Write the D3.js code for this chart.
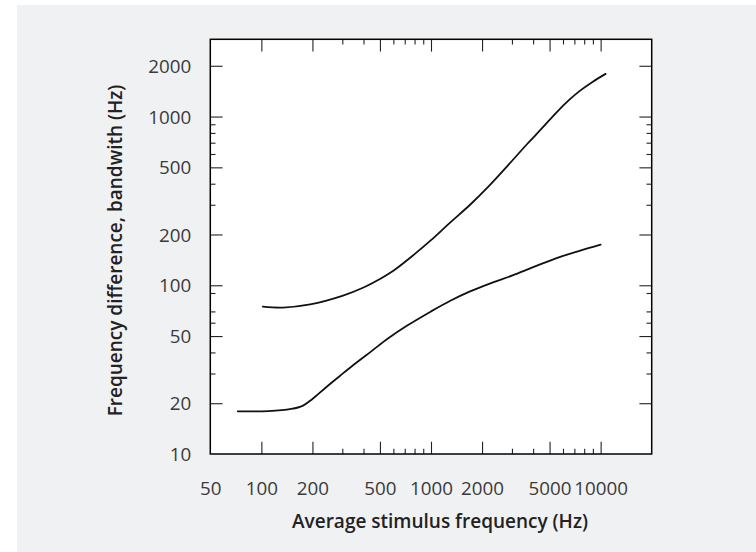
<!DOCTYPE html>
<html>
<head>
<meta charset="utf-8">
<script src="https://cdn.jsdelivr.net/npm/d3@7"></script>
<style>
  html, body { margin: 0; padding: 0; background: #ffffff; }
  svg { display: block; }
</style>
</head>
<body>
<svg id="chart" width="756" height="552"></svg>
<script>
// ---- data ----
const upperFreq = [102, 134, 194, 300, 400, 500, 600, 800, 1000, 1300, 1700, 2200, 2800, 3700, 4500, 5500, 6500, 7500, 9000, 10700];
const upperBand = [74.7, 73.8, 77, 86.5, 97, 109, 122, 153, 185, 236, 300, 388, 505, 690, 850, 1060, 1250, 1415, 1610, 1790];

const lowerFreq = [72.6, 110, 150, 175, 200, 240, 290, 350, 450, 560, 720, 1000, 1300, 1700, 2200, 3000, 4000, 5500, 7500, 10000];
const lowerBand = [17.9, 17.95, 18.5, 19.3, 21.2, 24.8, 29, 33.8, 41, 48.5, 57.5, 70, 81, 92, 102, 114, 128, 145, 160, 174];

const xTickLabels = [50, 100, 200, 500, 1000, 2000, 5000, 10000];
const xMajorTicks = [100, 200, 500, 1000, 2000, 5000, 10000];
const xMinorTicks = [300, 400, 600, 700, 800, 900, 3000, 4000, 6000, 7000, 8000, 9000];

const yTickLabels = [10, 20, 50, 100, 200, 500, 1000, 2000];
const yMajorTicks = [20, 50, 100, 200, 500, 1000, 2000];
const yMinorTicks = [30, 40, 60, 70, 90, 300, 400, 600, 700, 800, 900];

const xTitle = "Average stimulus frequency (Hz)";
const yTitle = "Frequency difference, bandwith (Hz)";

// ---- layout ----
const svg = d3.select("#chart");
const plot = { left: 210.3, right: 651.7, top: 39.3, bottom: 454 };

svg.append("rect")
  .attr("x", 17).attr("y", 5).attr("width", 756 - 17).attr("height", 552 - 5)
  .attr("fill", "#f0f1f3");

const x = d3.scaleLog().domain([50, 20000]).range([plot.left, plot.right]);
const y = d3.scaleLog().domain([10, 2870]).range([plot.bottom, plot.top]);

svg.append("rect")
  .attr("x", plot.left).attr("y", plot.top)
  .attr("width", plot.right - plot.left).attr("height", plot.bottom - plot.top)
  .attr("fill", "#ffffff");

const tickColor = "#222";
const majorLen = 12.3, minorLen = 5.2;

function drawAxis(axisGen, transform, ticks, len) {
  const g = svg.append("g").attr("transform", transform)
    .call(axisGen.tickValues(ticks).tickSize(len).tickSizeOuter(0).tickFormat(""));
  g.select(".domain").remove();
  g.selectAll(".tick line").attr("stroke", tickColor).attr("stroke-width", 1.1);
  return g;
}

// bottom axis: ticks point up (inside)
drawAxis(d3.axisTop(x), `translate(0,${plot.bottom})`, xMajorTicks, majorLen);
drawAxis(d3.axisTop(x), `translate(0,${plot.bottom})`, xMinorTicks, minorLen);
// top axis: ticks point down (inside)
drawAxis(d3.axisBottom(x), `translate(0,${plot.top})`, xMajorTicks, majorLen);
drawAxis(d3.axisBottom(x), `translate(0,${plot.top})`, xMinorTicks, minorLen);
// left axis: ticks point right (inside)
drawAxis(d3.axisRight(y), `translate(${plot.left},0)`, yMajorTicks, majorLen);
drawAxis(d3.axisRight(y), `translate(${plot.left},0)`, yMinorTicks, minorLen);
// right axis: ticks point left (inside)
drawAxis(d3.axisLeft(y), `translate(${plot.right},0)`, yMajorTicks, majorLen);
drawAxis(d3.axisLeft(y), `translate(${plot.right},0)`, yMinorTicks, minorLen);

// tick labels
const labelFont = "'Open Sans', sans-serif";
const labelColor = "#3a3a3a";

const xLab = svg.append("g")
  .attr("transform", `translate(0,${plot.bottom})`)
  .call(d3.axisBottom(x).tickValues(xTickLabels).tickSize(0).tickPadding(0).tickFormat(d3.format("d")));
xLab.select(".domain").remove();
xLab.selectAll("text")
  .attr("y", 41).attr("dy", 0)
  .attr("font-family", labelFont).attr("font-size", 18.8)
  .attr("fill", labelColor);

const yLab = svg.append("g")
  .attr("transform", `translate(${plot.left},0)`)
  .call(d3.axisLeft(y).tickValues(yTickLabels).tickSize(0).tickPadding(0).tickFormat(d3.format("d")));
yLab.select(".domain").remove();
yLab.selectAll("text")
  .attr("x", -19).attr("dy", "0.35em")
  .attr("font-family", labelFont).attr("font-size", 18.8)
  .attr("fill", labelColor);

// frame
svg.append("rect")
  .attr("x", plot.left).attr("y", plot.top)
  .attr("width", plot.right - plot.left).attr("height", plot.bottom - plot.top)
  .attr("fill", "none").attr("stroke", "#000").attr("stroke-width", 1.5);

// curves
const line = d3.line()
  .x(d => x(d[0]))
  .y(d => y(d[1]))
  .curve(d3.curveCatmullRom.alpha(0.5));

const upper = upperFreq.map((f, i) => [f, upperBand[i]]);
const lower = lowerFreq.map((f, i) => [f, lowerBand[i]]);

[upper, lower].forEach(data => {
  svg.append("path")
    .datum(data)
    .attr("d", line)
    .attr("fill", "none")
    .attr("stroke", "#111")
    .attr("stroke-width", 1.8)
    .attr("stroke-linecap", "round");
});

// axis titles
svg.append("text")
  .attr("x", 440).attr("y", 528)
  .attr("text-anchor", "middle")
  .attr("font-family", labelFont).attr("font-weight", 600)
  .attr("font-size", 19).attr("fill", "#222")
  .text(xTitle);

svg.append("text")
  .attr("transform", `translate(122,250.5) rotate(-90)`)
  .attr("text-anchor", "middle")
  .attr("font-family", labelFont).attr("font-weight", 600)
  .attr("font-size", 19).attr("fill", "#222")
  .text(yTitle);
</script>
</body>
</html>
